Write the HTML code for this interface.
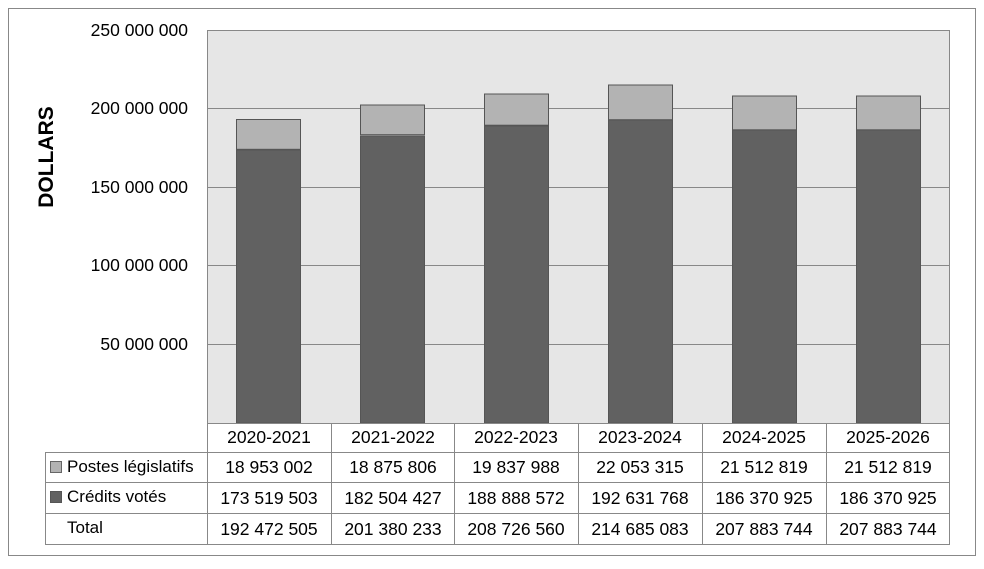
<!DOCTYPE html><html><head><style>body{margin:0;background:#fff}svg{display:block}text{font-family:"Liberation Sans",sans-serif;fill:#000}</style></head><body>
<svg width="984" height="569" viewBox="0 0 984 569">
<rect x="8.5" y="8.5" width="967" height="547" fill="#fff" stroke="#888"/>
<rect x="207" y="30" width="742" height="393" fill="#e6e6e6"/>
<g stroke="#888" stroke-width="1">
<line x1="207" x2="949" y1="30.5" y2="30.5"/><line x1="207" x2="949" y1="108.5" y2="108.5"/><line x1="207" x2="949" y1="187.5" y2="187.5"/><line x1="207" x2="949" y1="265.5" y2="265.5"/><line x1="207" x2="949" y1="344.5" y2="344.5"/>
<line x1="207.5" x2="207.5" y1="30" y2="545"/><line x1="949.5" x2="949.5" y1="30" y2="545"/>
</g>
<g font-size="17.5" text-anchor="end">
<text x="188" y="36">250 000 000</text><text x="188" y="114">200 000 000</text><text x="188" y="193">150 000 000</text><text x="188" y="271">100 000 000</text><text x="188" y="350">50 000 000</text>
</g>
<text transform="translate(53,157) rotate(-90)" font-size="21" font-weight="bold" text-anchor="middle">DOLLARS</text>
<g stroke="#555" stroke-width="1">
<rect x="236.5" y="119.5" width="64" height="29.8" fill="#b3b3b3"/><rect x="236.5" y="150" width="64" height="273" fill="#616161"/>
<rect x="360.5" y="105" width="64" height="29.7" fill="#b3b3b3"/><rect x="360.5" y="136" width="64" height="287" fill="#616161"/>
<rect x="484.5" y="94" width="64" height="31.2" fill="#b3b3b3"/><rect x="484.5" y="126" width="64" height="297" fill="#616161"/>
<rect x="608.5" y="85" width="64" height="34.7" fill="#b3b3b3"/><rect x="608.5" y="120" width="64" height="303" fill="#616161"/>
<rect x="732.5" y="96" width="64" height="33.8" fill="#b3b3b3"/><rect x="732.5" y="130" width="64" height="293" fill="#616161"/>
<rect x="856.5" y="96" width="64" height="33.8" fill="#b3b3b3"/><rect x="856.5" y="130" width="64" height="293" fill="#616161"/>
</g>
<g stroke="#888" stroke-width="1" fill="none">
<line x1="207" x2="949" y1="423.5" y2="423.5"/>
<line x1="45" x2="949" y1="452.5" y2="452.5"/><line x1="45" x2="949" y1="482.5" y2="482.5"/><line x1="45" x2="949" y1="513.5" y2="513.5"/><line x1="45" x2="949" y1="544.5" y2="544.5"/>
<line x1="45.5" x2="45.5" y1="452" y2="545"/>
<line x1="331.5" x2="331.5" y1="423" y2="545"/><line x1="454.5" x2="454.5" y1="423" y2="545"/><line x1="578.5" x2="578.5" y1="423" y2="545"/><line x1="702.5" x2="702.5" y1="423" y2="545"/><line x1="826.5" x2="826.5" y1="423" y2="545"/>
</g>
<rect x="50.5" y="461.5" width="11" height="11" fill="#b3b3b3" stroke="#666"/>
<rect x="50.5" y="491.5" width="11" height="11" fill="#616161" stroke="#555"/>
<g font-size="17">
<text x="67" y="472">Postes législatifs</text><text x="67" y="502">Crédits votés</text><text x="67" y="533">Total</text>
</g>
<g font-size="17.5" text-anchor="middle">
<text x="269" y="443">2020-2021</text><text x="393" y="443">2021-2022</text><text x="516" y="443">2022-2023</text><text x="640" y="443">2023-2024</text><text x="764" y="443">2024-2025</text><text x="888" y="443">2025-2026</text>
<text x="269" y="473">18 953 002</text><text x="393" y="473">18 875 806</text><text x="516" y="473">19 837 988</text><text x="640" y="473">22 053 315</text><text x="764" y="473">21 512 819</text><text x="888" y="473">21 512 819</text>
<text x="269" y="504">173 519 503</text><text x="393" y="504">182 504 427</text><text x="516" y="504">188 888 572</text><text x="640" y="504">192 631 768</text><text x="764" y="504">186 370 925</text><text x="888" y="504">186 370 925</text>
<text x="269" y="535">192 472 505</text><text x="393" y="535">201 380 233</text><text x="516" y="535">208 726 560</text><text x="640" y="535">214 685 083</text><text x="764" y="535">207 883 744</text><text x="888" y="535">207 883 744</text>
</g>
</svg></body></html>
